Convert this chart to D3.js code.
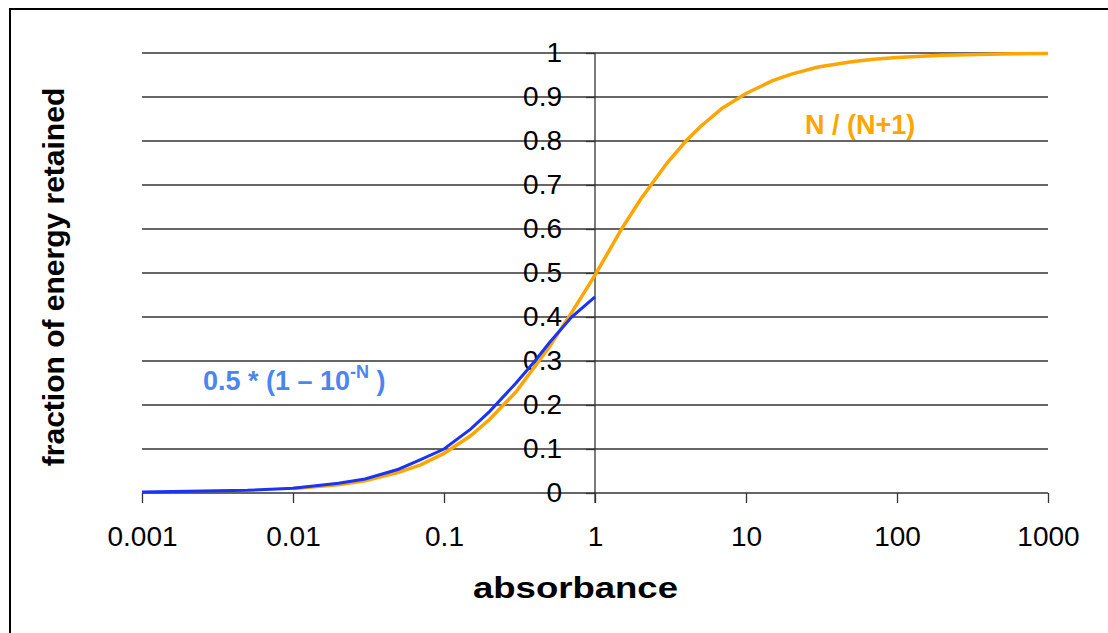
<!DOCTYPE html>
<html>
<head>
<meta charset="utf-8">
<script src="https://cdn.jsdelivr.net/npm/d3@7"></script>
<style>
body { margin: 0; background: #fff; }
svg { display: block; font-family: "Liberation Sans", Arial, sans-serif; }
</style>
</head>
<body>
<div></div>
<script>
// absorbance values and fraction of energy retained
var blueX = [0.001, 0.002, 0.005, 0.01, 0.02, 0.03, 0.05, 0.07, 0.1, 0.15, 0.2, 0.3, 0.4, 0.5, 0.7, 1];
var blueY = [0.002, 0.004, 0.006, 0.011, 0.022, 0.032, 0.054, 0.076, 0.1, 0.145, 0.185, 0.25, 0.3, 0.342, 0.4, 0.446];

var orangeX = [0.01, 0.02, 0.03, 0.05, 0.07, 0.1, 0.15, 0.2, 0.3, 0.5, 0.7, 1, 1.5, 2, 3, 4, 5, 7, 10, 15, 20, 30, 50, 70, 100, 200, 500, 1000];
var orangeY = [0.01, 0.019, 0.028, 0.047, 0.064, 0.09, 0.13, 0.167, 0.23, 0.333, 0.41, 0.495, 0.6, 0.667, 0.75, 0.8, 0.833, 0.875, 0.908, 0.937, 0.952, 0.968, 0.98, 0.986, 0.99, 0.995, 0.998, 0.999];

var xTicks = [0.001, 0.01, 0.1, 1, 10, 100, 1000];
var xTickLabels = ["0.001", "0.01", "0.1", "1", "10", "100", "1000"];
var yTicks = [0, 0.1, 0.2, 0.3, 0.4, 0.5, 0.6, 0.7, 0.8, 0.9, 1];
var yTickLabels = ["0", "0.1", "0.2", "0.3", "0.4", "0.5", "0.6", "0.7", "0.8", "0.9", "1"];

function init() {
var w = 1108;
var h = 633;

var svg = d3.select("div")
            .append("svg")
            .attr("width", w)
            .attr("height", h);

// outer frame (right and bottom edges fall outside the picture)
svg.append("rect")
    .attr("x", 10)
    .attr("y", 9)
    .attr("width", 1200)
    .attr("height", 700)
    .attr("fill", "none")
    .attr("stroke", "#000")
    .attr("stroke-width", 2);

var x = d3.scaleLog().domain([0.001, 1000]).range([142, 1048]);
var y = d3.scaleLinear().domain([0, 1]).range([493, 53]);

// horizontal gridlines
svg.selectAll("line.grid")
    .data(yTicks)
    .enter()
    .append("line")
    .attr("class", "grid")
    .attr("x1", x(0.001))
    .attr("x2", x(1000))
    .attr("y1", function(d) { return y(d); })
    .attr("y2", function(d) { return y(d); })
    .attr("stroke", "#333")
    .attr("stroke-width", 1.3);

// x axis ticks along the zero line
var xAxis = d3.axisBottom(x)
    .tickValues(xTicks)
    .tickFormat(function(d, i) { return xTickLabels[i]; })
    .tickSize(10)
    .tickPadding(23);

var gx = svg.append("g")
    .attr("transform", "translate(0," + y(0) + ")")
    .call(xAxis);
gx.select(".domain").remove();
gx.selectAll("line").attr("stroke", "#333").attr("stroke-width", 1.3);
gx.selectAll("text")
    .attr("font-size", 28)
    .attr("fill", "#000")
    .attr("font-family", "Liberation Sans, Arial, sans-serif");

// y axis drawn at absorbance = 1
var yAxis = d3.axisLeft(y)
    .tickValues(yTicks)
    .tickFormat(function(d, i) { return yTickLabels[i]; })
    .tickSize(9)
    .tickPadding(24);

var gy = svg.append("g")
    .attr("transform", "translate(" + x(1) + ",0)")
    .call(yAxis);
gy.select(".domain").remove();
gy.selectAll("line").attr("stroke", "#333").attr("stroke-width", 1.3);
gy.selectAll("text")
    .attr("font-size", 28)
    .attr("fill", "#000")
    .attr("font-family", "Liberation Sans, Arial, sans-serif");

svg.append("line")
    .attr("x1", x(1))
    .attr("x2", x(1))
    .attr("y1", y(1))
    .attr("y2", y(0) + 10)
    .attr("stroke", "#333")
    .attr("stroke-width", 1.3);

var line = d3.line()
    .x(function(d) { return x(d[0]); })
    .y(function(d) { return y(d[1]); });

svg.append("path")
    .datum(orangeX.map(function(d, i) { return [d, orangeY[i]]; }))
    .attr("d", line)
    .attr("fill", "none")
    .attr("stroke", "#ffa500")
    .attr("stroke-width", 3.5);

svg.append("path")
    .datum(blueX.map(function(d, i) { return [d, blueY[i]]; }))
    .attr("d", line)
    .attr("fill", "none")
    .attr("stroke", "#1a33f5")
    .attr("stroke-width", 3);

// axis titles
svg.append("text")
    .text("absorbance")
    .attr("x", 473)
    .attr("y", 598)
    .attr("textLength", 205)
    .attr("lengthAdjust", "spacingAndGlyphs")
    .attr("font-size", 30)
    .attr("font-weight", "bold");

svg.append("text")
    .text("fraction of energy retained")
    .attr("transform", "translate(64,277) rotate(-90)")
    .attr("text-anchor", "middle")
    .attr("font-size", 30)
    .attr("font-weight", "bold");

// curve labels
var blueLabel = svg.append("text")
    .attr("x", 203)
    .attr("y", 390)
    .attr("font-size", 27)
    .attr("font-weight", "bold")
    .attr("fill", "#4a86f0");
blueLabel.append("tspan").text("0.5 * (1 \u2013 10");
blueLabel.append("tspan").text("-N").attr("font-size", 18).attr("dy", -12);
blueLabel.append("tspan").text(" )").attr("dy", 12);

svg.append("text")
    .text("N / (N+1)")
    .attr("x", 805)
    .attr("y", 134)
    .attr("font-size", 27)
    .attr("font-weight", "bold")
    .attr("fill", "#ffa500");
}

window.onload = init;
</script>
</body>
</html>
